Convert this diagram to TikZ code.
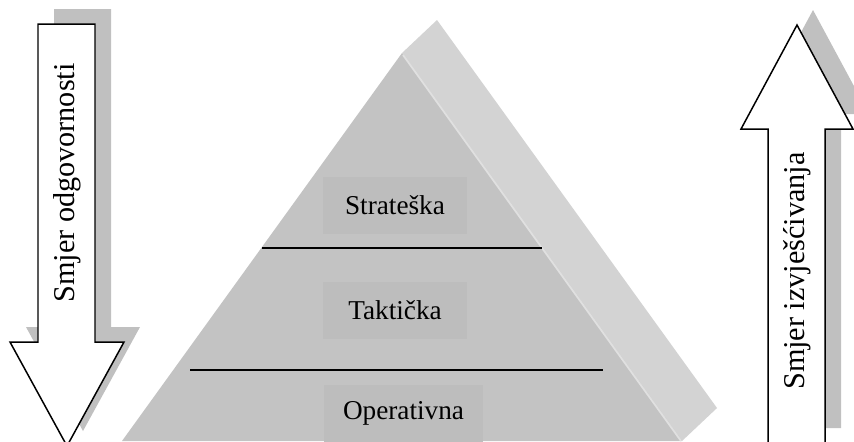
\documentclass[tikz,border=0pt]{standalone}
\usepackage{fontspec}
\setmainfont{Liberation Serif}
\usepackage{tikz}
\usetikzlibrary{positioning}
\definecolor{facegray}{RGB}{195,195,195}
\definecolor{sidegray}{RGB}{211,211,211}
\definecolor{boxgray}{RGB}{189,189,189}
\definecolor{shadowgray}{RGB}{192,192,192}
\definecolor{edgelight}{RGB}{224,224,224}
\tikzset{
  levelbox/.style={rectangle, fill=boxgray, inner sep=0pt,
    minimum width=2.88cm, minimum height=1.14cm,
    font=\fontsize{15.5}{18}\selectfont},
  arrowtext/.style={rotate=90, inner sep=0pt,
    font=\fontsize{17.2}{20}\selectfont},
  outline/.style={draw=black, fill=white, line width=0.85pt, line join=miter},
  shadow/.style={fill=shadowgray, shift={(16,-15)}},
  divider/.style={draw=black, line width=0.75pt}
}

\begin{document}
\begin{tikzpicture}[x=0.02cm, y=-0.02cm]
  \useasboundingbox (0,0) rectangle (854,441);
  % pyramid side and front
  \fill[sidegray] (402,53) -- (437,20) -- (717,408) -- (682,441) -- cycle;
  \fill[facegray] (402,53) -- (682,441) -- (122,441) -- cycle;
  \draw[edgelight, line width=1pt] (403,55) -- (681,441);
  % levels
  \node[levelbox] (strat) at (395,205.5) {Strateška};
  \node[levelbox] (takt) at (395,310) {Taktička};
  \node[levelbox, minimum width=3.18cm] (oper) at (403.5,413) {Operativna};
  \draw[divider] (262,248) -- (542,248);
  \draw[divider] (190,370) -- (603,370);
  % left arrow (down)
  \fill[shadow] (38,24) -- (95,24) -- (95,342) -- (124,342) -- (67,446)
       -- (10,342) -- (38,342) -- cycle;
  \draw[outline] (38,24) -- (95,24) -- (95,342) -- (124,342) -- (67,446)
       -- (10,342) -- (38,342) -- cycle;
  \node[arrowtext] (odg) at (67,183) {Smjer odgovornosti};
  % right arrow (up)
  \fill[shadow] (797,25) -- (853,129) -- (825,129) -- (825,443) -- (768,443)
       -- (768,129) -- (741,129) -- cycle;
  \draw[outline] (797,25) -- (853,129) -- (825,129) -- (825,443) -- (768,443)
       -- (768,129) -- (741,129) -- cycle;
  \node[arrowtext] (izv) at (797,271) {Smjer izvješćivanja};
\end{tikzpicture}
\end{document}
